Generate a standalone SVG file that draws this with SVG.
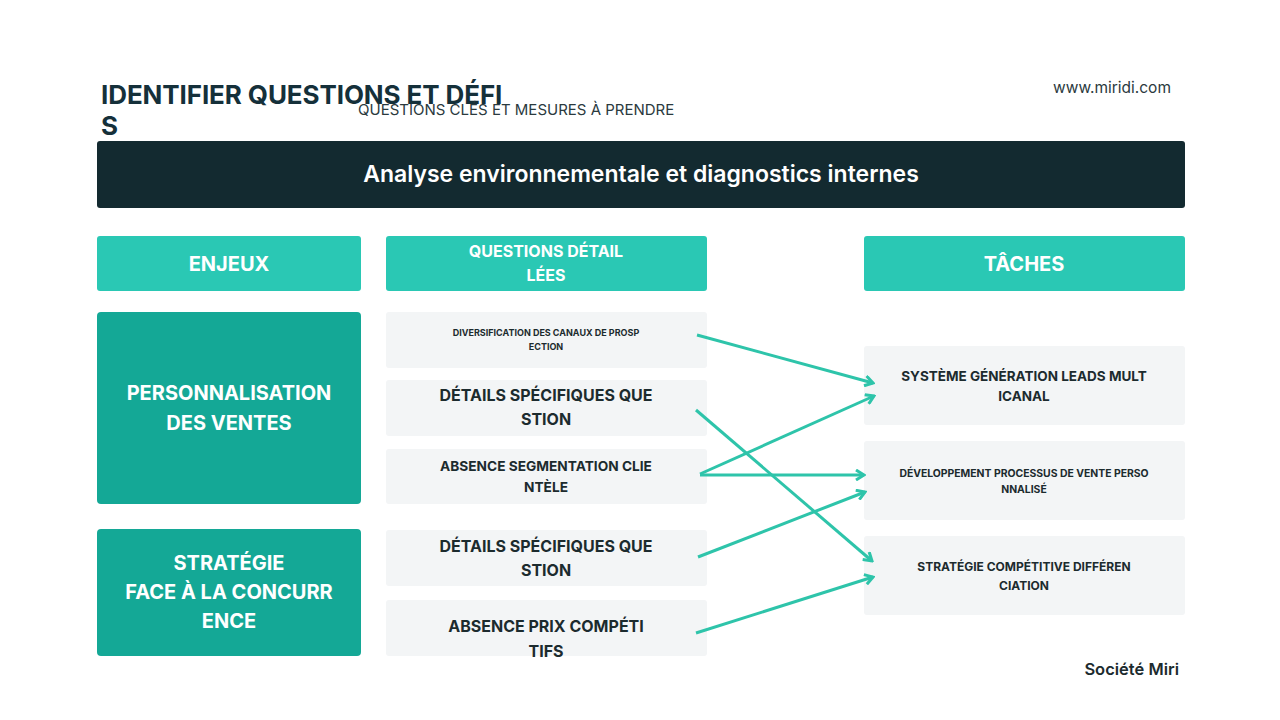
<svg xmlns="http://www.w3.org/2000/svg" width="1280" height="720" viewBox="0 0 1280 720">
<defs>
<style>
text{font-family:Inter,"Noto Sans","Liberation Sans",sans-serif;}
.hdr{fill:#2ac8b4;}
.lft{fill:#14a896;}
.card{fill:#f3f5f6;}
.wt{fill:#ffffff;font-weight:700;text-anchor:middle;}
.dk{fill:#1c2b2e;font-weight:700;text-anchor:middle;}
.conn{stroke:#2ec4aa;stroke-width:3;fill:none;marker-end:url(#arr);}
</style>
<marker id="arr" markerUnits="userSpaceOnUse" viewBox="0 0 12 12" refX="10" refY="6" markerWidth="12" markerHeight="12" orient="auto">
<path d="M2,1 L10,6 L2,11" fill="none" stroke="#2ec4aa" stroke-width="3"/>
</marker>
</defs>
<rect width="1280" height="720" fill="#ffffff"/>
<g id="header">
<text x="101" y="104" font-size="26" font-weight="700" fill="#15303a" letter-spacing="-0.1">IDENTIFIER QUESTIONS ET DÉFI</text>
<text x="101" y="135" font-size="26" font-weight="700" fill="#15303a">S</text>
<text x="358" y="115" font-size="15" fill="#2b3a3e">QUESTIONS CLÉS ET MESURES À PRENDRE</text>
<text x="1171" y="93" font-size="15.5" fill="#2b3a3e" text-anchor="end">www.miridi.com</text>
</g>
<g id="banner">
<rect x="97" y="141" width="1088" height="67" rx="3" fill="#132a30"/>
<text x="641" y="182" font-size="23" font-weight="600" fill="#ffffff" text-anchor="middle">Analyse environnementale et diagnostics internes</text>
</g>
<g id="h-enjeux"><rect class="hdr" x="97" y="236" width="264" height="55" rx="3"/><text class="wt" x="229" y="271" font-size="20">ENJEUX</text></g>
<g id="h-questions"><rect class="hdr" x="386" y="236" width="321" height="55" rx="3"/><text class="wt" x="546" y="257" font-size="16">QUESTIONS DÉTAIL</text><text class="wt" x="546" y="281" font-size="16">LÉES</text></g>
<g id="h-taches"><rect class="hdr" x="864" y="236" width="321" height="55" rx="3"/><text class="wt" x="1024" y="271" font-size="20">TÂCHES</text></g>
<g id="e1"><rect class="lft" x="97" y="312" width="264" height="192" rx="4"/><text class="wt" x="229" y="400" font-size="20">PERSONNALISATION</text><text class="wt" x="229" y="430" font-size="20">DES VENTES</text></g>
<g id="e2"><rect class="lft" x="97" y="529" width="264" height="127" rx="4"/><text class="wt" x="229" y="570" font-size="20">STRATÉGIE</text><text class="wt" x="229" y="599" font-size="20">FACE À LA CONCURR</text><text class="wt" x="229" y="628" font-size="20">ENCE</text></g>
<g id="q1"><rect class="card" x="386" y="312" width="321" height="56" rx="3"/><text class="dk" x="546" y="336" font-size="9">DIVERSIFICATION DES CANAUX DE PROSP</text><text class="dk" x="546" y="350" font-size="9">ECTION</text></g>
<g id="q2"><rect class="card" x="386" y="380" width="321" height="56" rx="3"/><text class="dk" x="546" y="401" font-size="16">DÉTAILS SPÉCIFIQUES QUE</text><text class="dk" x="546" y="425" font-size="16">STION</text></g>
<g id="q3"><rect class="card" x="386" y="449" width="321" height="55" rx="3"/><text class="dk" x="546" y="471" font-size="13.7">ABSENCE SEGMENTATION CLIE</text><text class="dk" x="546" y="492" font-size="13.7">NTÈLE</text></g>
<g id="q4"><rect class="card" x="386" y="530" width="321" height="56" rx="3"/><text class="dk" x="546" y="552" font-size="16">DÉTAILS SPÉCIFIQUES QUE</text><text class="dk" x="546" y="576" font-size="16">STION</text></g>
<g id="q5"><rect class="card" x="386" y="600" width="321" height="56" rx="3"/><text class="dk" x="546" y="632" font-size="16">ABSENCE PRIX COMPÉTI</text><text class="dk" x="546" y="657" font-size="16">TIFS</text></g>
<g id="t1"><rect class="card" x="864" y="346" width="321" height="79" rx="3"/><text class="dk" x="1024" y="381" font-size="13.5">SYSTÈME GÉNÉRATION LEADS MULT</text><text class="dk" x="1024" y="401" font-size="13.5">ICANAL</text></g>
<g id="t2"><rect class="card" x="864" y="441" width="321" height="79" rx="3"/><text class="dk" x="1024" y="477" font-size="10.4">DÉVELOPPEMENT PROCESSUS DE VENTE PERSO</text><text class="dk" x="1024" y="493" font-size="10.4">NNALISÉ</text></g>
<g id="t3"><rect class="card" x="864" y="536" width="321" height="79" rx="3"/><text class="dk" x="1024" y="571" font-size="12">STRATÉGIE COMPÉTITIVE DIFFÉREN</text><text class="dk" x="1024" y="590" font-size="12">CIATION</text></g>
<g id="connectors">
<line class="conn" x1="697" y1="335" x2="873" y2="383"/>
<line class="conn" x1="696" y1="410" x2="872" y2="561"/>
<line class="conn" x1="700" y1="474" x2="874" y2="396"/>
<line class="conn" x1="700" y1="475" x2="864" y2="475"/>
<line class="conn" x1="698" y1="557" x2="865" y2="492"/>
<line class="conn" x1="696" y1="633" x2="873" y2="577"/>
</g>
<g id="footer"><text x="1179" y="675" font-size="16.5" font-weight="600" fill="#1c2b2e" text-anchor="end">Société Miri</text></g>
</svg>
